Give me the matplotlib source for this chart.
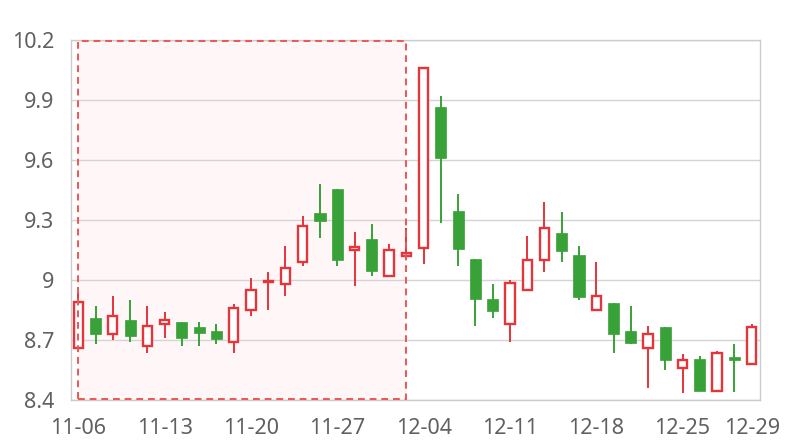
import pandas as pd
import matplotlib.pyplot as plt

# Trading days shown on the category axis
dates = pd.bdate_range("2023-11-06", "2023-12-29").strftime("%m-%d").tolist()

opens = [8.66, 8.81, 8.73, 8.80, 8.67, 8.78, 8.79, 8.765, 8.745, 8.69,
         8.85, 8.99, 8.98, 9.09, 9.335, 9.455, 9.15, 9.205, 9.02, 9.12,
         9.16, 9.865, 9.345, 9.105, 8.905, 8.78, 8.95, 9.10, 9.235, 9.125,
         8.85, 8.885, 8.745, 8.66, 8.765, 8.56, 8.605, 8.447, 8.615, 8.58]
closes = [8.89, 8.73, 8.82, 8.72, 8.77, 8.80, 8.71, 8.735, 8.705, 8.86,
          8.95, 8.997, 9.06, 9.27, 9.295, 9.10, 9.165, 9.045, 9.15, 9.135,
          10.06, 9.61, 9.155, 8.905, 8.845, 8.985, 9.10, 9.26, 9.145, 8.915,
          8.92, 8.73, 8.685, 8.73, 8.60, 8.60, 8.447, 8.633, 8.60, 8.765]
highs = [8.94, 8.87, 8.92, 8.90, 8.87, 8.84, 8.79, 8.79, 8.78, 8.88,
         9.01, 9.04, 9.17, 9.32, 9.48, 9.455, 9.24, 9.28, 9.18, 9.26,
         10.06, 9.92, 9.43, 9.105, 8.98, 9.00, 9.22, 9.39, 9.34, 9.17,
         9.09, 8.885, 8.87, 8.77, 8.765, 8.63, 8.62, 8.647, 8.68, 8.78]
lows = [8.65, 8.68, 8.70, 8.69, 8.635, 8.71, 8.67, 8.67, 8.68, 8.635,
        8.82, 8.85, 8.92, 9.07, 9.21, 9.07, 8.97, 9.02, 9.02, 9.10,
        9.08, 9.285, 9.07, 8.77, 8.81, 8.69, 8.945, 9.04, 9.09, 8.90,
        8.85, 8.635, 8.68, 8.46, 8.55, 8.435, 8.447, 8.442, 8.44, 8.58]

# highlighted window (first to last index)
highlight = (0, 19)

tick_idx = [0, 5, 10, 15, 20, 25, 30, 35, 39]
yticks = [8.4, 8.7, 9.0, 9.3, 9.6, 9.9, 10.2]
ytick_labels = ["8.4", "8.7", "9", "9.3", "9.6", "9.9", "10.2"]

RED = "#e5343a"
GREEN = "#38a137"
TEXT = "#606060"

plt.rcParams["font.family"] = ["Noto Sans", "DejaVu Sans"]

fig = plt.figure(figsize=(8, 4.4), dpi=100)
ax = fig.add_axes([70.7 / 800, 40 / 440, 689.6 / 800, 360 / 440])

# shaded window with dashed outline
ax.axvspan(highlight[0], highlight[1], facecolor="#fff7f7", edgecolor="none", zorder=0)
ax.axvspan(highlight[0], highlight[1], ymin=0.003, ymax=0.997, facecolor="none",
           edgecolor="#ee5555", linestyle=(0, (3.5, 2.5)), linewidth=1.4, zorder=4)

width = 0.64
for i in range(len(dates)):
    o, c, h, l = opens[i], closes[i], highs[i], lows[i]
    up = c >= o
    col = RED if up else GREEN
    ax.vlines(i, l, h, color=col, linewidth=1.4, zorder=2)
    bottom = min(o, c)
    height = max(abs(c - o), 0.004)
    if up:
        ax.bar(i, height, bottom=bottom, width=width - 0.1, facecolor="white",
               edgecolor=col, linewidth=1.7, zorder=3)
    else:
        ax.bar(i, height, bottom=bottom, width=width, facecolor=col,
               edgecolor=col, linewidth=0.5, zorder=3)

ax.set_xlim(-0.44, 39.5)
ax.set_ylim(8.4, 10.2)
ax.set_yticks(yticks)
ax.set_yticklabels(ytick_labels)
ax.set_xticks(tick_idx)
ax.set_xticklabels([dates[i] for i in tick_idx])
ax.tick_params(axis="both", length=0, labelsize=15.5, colors=TEXT)
ax.tick_params(axis="y", pad=12)
ax.tick_params(axis="x", pad=13)
ax.grid(axis="y", color="#d4d4d4", linewidth=1, zorder=1)
ax.set_axisbelow(True)
for s in ax.spines.values():
    s.set_color("#cccccc")
    s.set_linewidth(1)

fig.savefig("out.png", dpi=100)
